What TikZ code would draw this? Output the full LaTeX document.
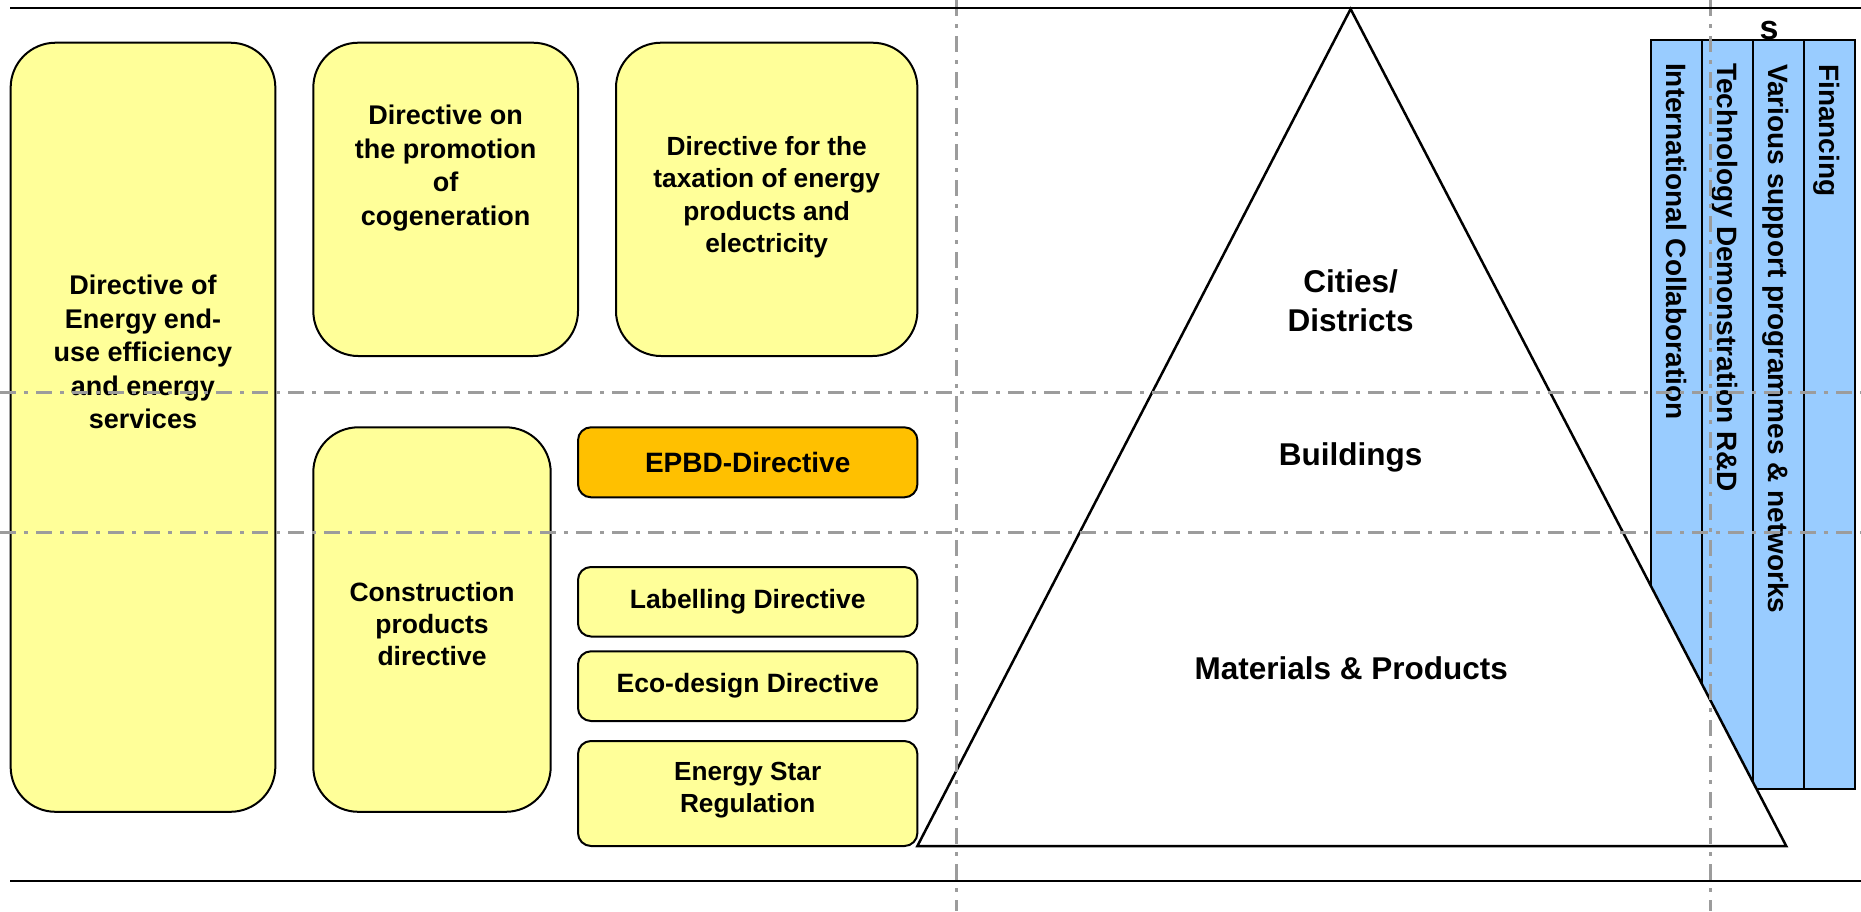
\documentclass[tikz,border=0pt]{standalone}
\usepackage{fontspec}
\setmainfont{Liberation Sans}
\definecolor{boxyellow}{HTML}{FFFF99}
\definecolor{boxorange}{HTML}{FFC000}
\definecolor{barblue}{HTML}{99CCFF}
\definecolor{guidegray}{HTML}{9C9C9C}
\begin{document}
\begin{tikzpicture}[x=1pt,y=-1pt,
  bigbox/.style={draw=black, line width=2pt, fill=boxyellow, rounded corners=45pt, inner sep=0pt},
  smallbox/.style={draw=black, line width=2pt, fill=boxyellow, rounded corners=13pt, inner sep=0pt},
  barbox/.style={draw=black, line width=2pt, fill=barblue, inner sep=0pt, minimum width=51pt, minimum height=749pt},
  boxtext/.style={font=\fontsize{27}{33.5}\selectfont\bfseries, align=center, inner sep=0pt},
  smalltext/.style={font=\fontsize{26.5}{31}\selectfont\bfseries, align=center, inner sep=0pt},
  leveltext/.style={font=\fontsize{31.5}{39}\selectfont\bfseries, align=center, inner sep=0pt},
  bartext/.style={font=\fontsize{28}{33}\selectfont\bfseries, rotate=-90, anchor=west, inner sep=0pt, text height=20pt, text depth=0pt},
  guide/.style={draw=guidegray, line width=3pt, dash pattern=on 16pt off 8pt on 4pt off 8pt},
  rule/.style={draw=black, line width=2pt}]

\useasboundingbox (0,0) rectangle (1861,911);

% EU directives (yellow boxes)
\node[bigbox, minimum width=264.7pt, minimum height=769.1pt] (eed) at (143,427.25) {};
\node[boxtext] (eedtext) at (143,352) {Directive of\\Energy end-\\use efficiency\\and energy\\services};

\node[bigbox, minimum width=264.7pt, minimum height=313.3pt] (chp) at (445.65,199.35) {};
\node[boxtext] (chptext) at (445.65,168) {Directive on\\the promotion\\of\\cogeneration};

\node[bigbox, minimum width=301.4pt, minimum height=313.3pt] (tax) at (766.7,199.35) {};
\node[boxtext, font=\fontsize{26.3}{32.4}\selectfont\bfseries] (taxtext) at (766.7,197) {Directive for the\\taxation of energy\\products and\\electricity};

\node[bigbox, minimum width=237.4pt, minimum height=384.5pt] (cpd) at (432,619.55) {};
\node[boxtext, font=\fontsize{26.5}{32}\selectfont\bfseries] (cpdtext) at (432,624) {Construction\\products\\directive};

\node[smallbox, fill=boxorange, minimum width=339.4pt, minimum height=70pt] (epbd) at (747.7,462.3) {};
\node[smalltext, font=\fontsize{28}{33}\selectfont\bfseries] (epbdtext) at (747.7,462.3) {EPBD-Directive};

\node[smallbox, minimum width=339.4pt, minimum height=69.5pt] (label) at (747.7,601.75) {};
\node[smalltext] (labeltext) at (747.7,601.75) {Labelling Directive};

\node[smallbox, minimum width=339.4pt, minimum height=69.7pt] (eco) at (747.7,686.15) {};
\node[smalltext] (ecotext) at (747.7,686.15) {Eco-design Directive};

\node[smallbox, minimum width=339.4pt, minimum height=105pt] (star) at (747.7,793.5) {};
\node[smalltext, font=\fontsize{26.2}{31.5}\selectfont\bfseries] (startext) at (747.7,790) {Energy Star\\Regulation};

% Support measures (blue bars)
\node[barbox] (intl) at (1676.5,414.5) {};
\node[barbox] (tech) at (1727.5,414.5) {};
\node[barbox] (prog) at (1778.5,414.5) {};
\node[barbox] (fin)  at (1829.5,414.5) {};

% Pyramid of levels
\coordinate (apex) at (1350.6,9);
\coordinate (baseR) at (1786.2,846);
\coordinate (baseL) at (917.4,846);
\draw[line width=2.5pt, fill=white] (apex) -- (baseR) -- (baseL) -- cycle;

\node[leveltext] (cities) at (1350.6,301) {Cities/\\Districts};
\node[leveltext] (buildings) at (1350.6,457.5) {Buildings};
\node[leveltext] (materials) at (1351.3,668) {Materials \& Products};

% Bar labels
\node[bartext] (intltext) at (1676.5,63) {International Collaboration};
\node[bartext] (techtext) at (1727.5,63) {Technology Demonstration R\&D};
\node[bartext] (progtext) at (1778.5,64) {Various support programmes \& networks};
\node[bartext] (fintext)  at (1829.5,64) {Financing};
\node[font=\fontsize{34}{38}\selectfont\bfseries, inner sep=0pt, anchor=base] (stext) at (1769,39) {s};

% Guide lines
\coordinate (h1L) at (0,392);   \coordinate (h1R) at (1861,392);
\coordinate (h2L) at (0,532.5); \coordinate (h2R) at (1861,532.5);
\coordinate (v1T) at (956,0);   \coordinate (v1B) at (956,911);
\coordinate (v2T) at (1710,0);  \coordinate (v2B) at (1710,911);
\draw[guide] (h1L) -- (h1R);
\draw[guide] (h2L) -- (h2R);
\draw[guide] (v1T) -- (v1B);
\draw[guide] (v2T) -- (v2B);

% Top and bottom rules
\coordinate (topL) at (10,7.5);  \coordinate (topR) at (1861,7.5);
\coordinate (botL) at (10,881);  \coordinate (botR) at (1861,881);
\draw[rule] (topL) -- (topR);
\draw[rule] (botL) -- (botR);
\end{tikzpicture}
\end{document}
